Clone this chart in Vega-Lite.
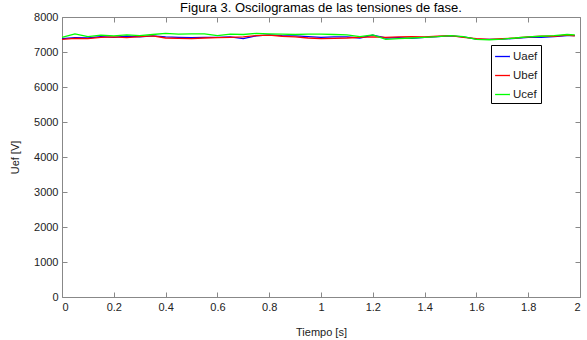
{
  "$schema": "https://vega.github.io/schema/vega-lite/v6.json",
  "width": 518,
  "height": 280,
  "autosize": {"type": "none"},
  "padding": {"left": 62, "top": 17, "right": 7, "bottom": 43},
  "background": "white",
  "config": {
    "font": "Liberation Sans",
    "view": {"stroke": null},
    "axis": {
      "grid": false,
      "domainColor": "#888888",
      "tickColor": "#888888",
      "tickSize": -5,
      "labelPadding": 9,
      "labelFont": "Liberation Sans",
      "labelFontSize": 11,
      "labelColor": "#222222",
      "titleFont": "Liberation Sans",
      "titleFontSize": 11,
      "titleFontWeight": "normal",
      "titleColor": "#222222"
    }
  },
  "title": {
    "text": "Figura 3. Oscilogramas de las tensiones de fase.",
    "font": "Liberation Sans",
    "fontSize": 13,
    "fontWeight": "normal",
    "color": "#000000",
    "anchor": "middle",
    "baseline": "alphabetic",
    "offset": 11,
    "dy": 25
  },
  "data": {
    "values": [
      {"t": 0.0, "Uaef": 7380, "Ubef": 7360, "Ucef": 7420},
      {"t": 0.05, "Uaef": 7410, "Ubef": 7390, "Ucef": 7520},
      {"t": 0.1, "Uaef": 7400, "Ubef": 7380, "Ucef": 7440},
      {"t": 0.15, "Uaef": 7440, "Ubef": 7420, "Ucef": 7480},
      {"t": 0.2, "Uaef": 7420, "Ubef": 7430, "Ucef": 7460},
      {"t": 0.25, "Uaef": 7450, "Ubef": 7410, "Ucef": 7490},
      {"t": 0.3, "Uaef": 7430, "Ubef": 7440, "Ucef": 7470},
      {"t": 0.35, "Uaef": 7460, "Ubef": 7460, "Ucef": 7500},
      {"t": 0.4, "Uaef": 7430, "Ubef": 7400, "Ucef": 7530},
      {"t": 0.45, "Uaef": 7420, "Ubef": 7390, "Ucef": 7510},
      {"t": 0.5, "Uaef": 7410, "Ubef": 7380, "Ucef": 7520},
      {"t": 0.55, "Uaef": 7420, "Ubef": 7400, "Ucef": 7520},
      {"t": 0.6, "Uaef": 7420, "Ubef": 7410, "Ucef": 7470},
      {"t": 0.65, "Uaef": 7430, "Ubef": 7420, "Ucef": 7510},
      {"t": 0.7, "Uaef": 7380, "Ubef": 7430, "Ucef": 7500},
      {"t": 0.75, "Uaef": 7460, "Ubef": 7470, "Ucef": 7530},
      {"t": 0.8, "Uaef": 7490, "Ubef": 7480, "Ucef": 7520},
      {"t": 0.85, "Uaef": 7470, "Ubef": 7450, "Ucef": 7510},
      {"t": 0.9, "Uaef": 7460, "Ubef": 7430, "Ucef": 7500},
      {"t": 0.95, "Uaef": 7440, "Ubef": 7400, "Ucef": 7510},
      {"t": 1.0, "Uaef": 7420, "Ubef": 7380, "Ucef": 7510},
      {"t": 1.05, "Uaef": 7430, "Ubef": 7390, "Ucef": 7500},
      {"t": 1.1, "Uaef": 7430, "Ubef": 7400, "Ucef": 7490},
      {"t": 1.15, "Uaef": 7400, "Ubef": 7420, "Ucef": 7440},
      {"t": 1.2, "Uaef": 7480, "Ubef": 7430, "Ucef": 7490},
      {"t": 1.25, "Uaef": 7400, "Ubef": 7420, "Ucef": 7360},
      {"t": 1.3, "Uaef": 7410, "Ubef": 7430, "Ucef": 7380},
      {"t": 1.35, "Uaef": 7390, "Ubef": 7440, "Ucef": 7400},
      {"t": 1.4, "Uaef": 7420, "Ubef": 7430, "Ucef": 7420},
      {"t": 1.45, "Uaef": 7440, "Ubef": 7450, "Ucef": 7440},
      {"t": 1.5, "Uaef": 7460, "Ubef": 7470, "Ucef": 7470},
      {"t": 1.55, "Uaef": 7430, "Ubef": 7420, "Ucef": 7440},
      {"t": 1.6, "Uaef": 7370, "Ubef": 7380, "Ucef": 7360},
      {"t": 1.65, "Uaef": 7360, "Ubef": 7360, "Ucef": 7350},
      {"t": 1.7, "Uaef": 7370, "Ubef": 7380, "Ucef": 7370},
      {"t": 1.75, "Uaef": 7390, "Ubef": 7400, "Ucef": 7400},
      {"t": 1.8, "Uaef": 7420, "Ubef": 7430, "Ucef": 7430},
      {"t": 1.85, "Uaef": 7420, "Ubef": 7450, "Ucef": 7450},
      {"t": 1.9, "Uaef": 7440, "Ubef": 7450, "Ucef": 7470},
      {"t": 1.95, "Uaef": 7470, "Ubef": 7480, "Ucef": 7500},
      {"t": 1.98, "Uaef": 7470, "Ubef": 7460, "Ucef": 7490}
    ]
  },
  "transform": [{"fold": ["Uaef", "Ubef", "Ucef"], "as": ["serie", "v"]}],
  "layer": [
    {
      "mark": {"type": "line", "strokeWidth": 1.3},
      "encoding": {
        "x": {
          "field": "t", "type": "quantitative",
          "scale": {"domain": [0, 2], "nice": false},
          "axis": {"values": [0, 0.2, 0.4, 0.6, 0.8, 1, 1.2, 1.4, 1.6, 1.8, 2], "format": "~g", "title": "Tiempo [s]", "titlePadding": 14}
        },
        "y": {
          "field": "v", "type": "quantitative",
          "scale": {"domain": [0, 8000], "nice": false, "zero": false},
          "axis": {"values": [0, 1000, 2000, 3000, 4000, 5000, 6000, 7000, 8000], "format": "d", "title": "Uef [V]", "titlePadding": 13}
        },
        "color": {
          "field": "serie", "type": "nominal",
          "scale": {"domain": ["Uaef", "Ubef", "Ucef"], "range": ["#0000FF", "#FF0000", "#00FF00"]},
          "legend": {
            "title": null,
            "orient": "none",
            "legendX": 429,
            "legendY": 28,
            "symbolType": "stroke",
            "symbolSize": 220,
            "symbolStrokeWidth": 1.3,
            "labelFontSize": 11.5,
            "labelColor": "#222222",
            "labelFont": "Liberation Sans",
            "fillColor": "white",
            "strokeColor": "#000000",
            "padding": 3,
            "rowPadding": 5,
            "labelOffset": 2
          }
        }
      }
    },
    {
      "mark": {"type": "line", "opacity": 0},
      "encoding": {
        "x": {
          "field": "t", "type": "quantitative",
          "axis": {"orient": "top", "values": [0, 0.2, 0.4, 0.6, 0.8, 1, 1.2, 1.4, 1.6, 1.8, 2], "labels": false, "title": null}
        },
        "y": {
          "field": "v", "type": "quantitative",
          "axis": {"orient": "right", "values": [0, 1000, 2000, 3000, 4000, 5000, 6000, 7000, 8000], "labels": false, "title": null}
        }
      }
    }
  ],
  "resolve": {"axis": {"x": "independent", "y": "independent"}}
}
